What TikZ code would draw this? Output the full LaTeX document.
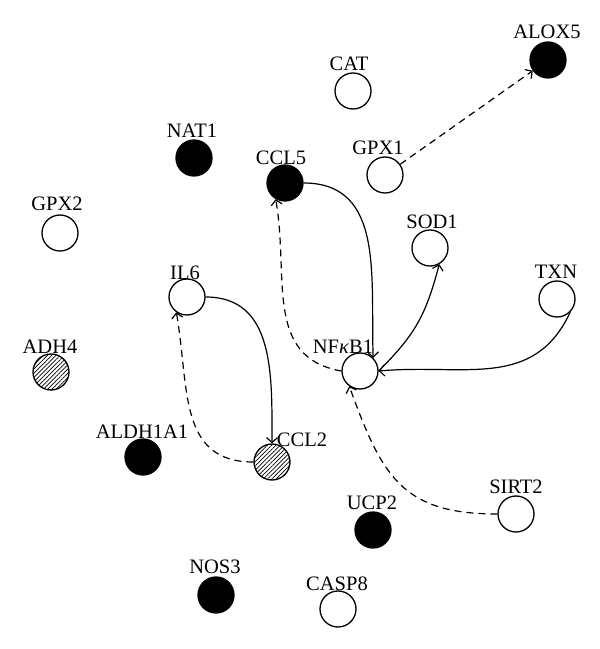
\documentclass[tikz,border=0pt]{standalone}
\usepackage{fontspec}
\setmainfont{Liberation Serif}
\usetikzlibrary{arrows.meta,patterns.meta}
\begin{document}
\begin{tikzpicture}[x=1pt,y=1pt,
  gene/.style={circle,draw,line width=1.3pt,minimum size=36pt,inner sep=0pt},
  opengene/.style={gene,fill=white},
  filledgene/.style={gene,fill=black},
  hatchgene/.style={gene,pattern={Lines[angle=45,distance=3pt,line width=0.7pt]}},
  lbl/.style={inner sep=0pt,font=\fontsize{20.5}{22}\selectfont},
  act/.style={line width=1.2pt,-{Straight Barb[length=5pt,width=11pt,line width=1.2pt]}},
  dashact/.style={act,dash pattern=on 7pt off 5pt}]
\useasboundingbox (0,0) rectangle (600,649);
% nodes
\node[opengene]   (CAT)   at (353,558) {};
\node[filledgene] (ALOX5) at (548,589) {};
\node[filledgene] (NAT1)  at (194,491) {};
\node[filledgene] (CCL5)  at (285,466) {};
\node[opengene]   (GPX1)  at (385,474) {};
\node[opengene]   (GPX2)  at (60,416) {};
\node[opengene]   (SOD1)  at (430,401) {};
\node[opengene]   (IL6)   at (187,352) {};
\node[opengene]   (TXN)   at (557,350) {};
\node[hatchgene]  (ADH4)  at (51,277) {};
\node[opengene]   (NFKB1) at (360,278) {};
\node[filledgene] (ALDH1A1) at (143,192) {};
\node[hatchgene]  (CCL2)  at (272,187) {};
\node[opengene]   (SIRT2) at (516,135) {};
\node[filledgene] (UCP2)  at (373,119) {};
\node[filledgene] (NOS3)  at (216,54) {};
\node[opengene]   (CASP8) at (338,40) {};
% labels
\node[lbl] (lCAT)   at (349,585) {CAT};
\node[lbl] (lALOX5) at (547,617) {ALOX5};
\node[lbl] (lNAT1)  at (192,518) {NAT1};
\node[lbl] (lCCL5)  at (281,491) {CCL5};
\node[lbl] (lGPX1)  at (378,501) {GPX1};
\node[lbl] (lGPX2)  at (57,445) {GPX2};
\node[lbl] (lSOD1)  at (432,427) {SOD1};
\node[lbl] (lIL6)   at (185,376) {IL6};
\node[lbl] (lTXN)   at (556,377) {TXN};
\node[lbl] (lADH4)  at (50,302) {ADH4};
\node[lbl] (lNFKB1) at (343,302) {NF\textit{κ}B1};
\node[lbl] (lALDH1A1) at (142,217) {ALDH1A1};
\node[lbl] (lCCL2)  at (302,209) {CCL2};
\node[lbl] (lSIRT2) at (516,162) {SIRT2};
\node[lbl] (lUCP2)  at (372,146) {UCP2};
\node[lbl] (lNOS3)  at (215,82) {NOS3};
\node[lbl] (lCASP8) at (337,65) {CASP8};
% edges
\draw[dashact] (GPX1) -- (ALOX5);
\draw[act] (CCL5.east) to[out=0,in=92,looseness=1.1] (NFKB1.45);
\draw[dashact] (NFKB1.west) to[out=170,in=-80,looseness=1.1] (CCL5.240);
\draw[act] (NFKB1.east) to[out=45,in=-105,looseness=1.1] (SOD1.-60);
\draw[act] (TXN.-45) to[out=-115,in=5,looseness=1.1] (NFKB1.east);
\draw[act] (IL6.east) to[out=0,in=90,looseness=1.1] (CCL2.north);
\draw[dashact] (CCL2.west) to[out=180,in=-80,looseness=1.15] (IL6.235);
\draw[dashact] (SIRT2.west) to[out=180,in=-70,looseness=1.25] (NFKB1.235);
\end{tikzpicture}
\end{document}
